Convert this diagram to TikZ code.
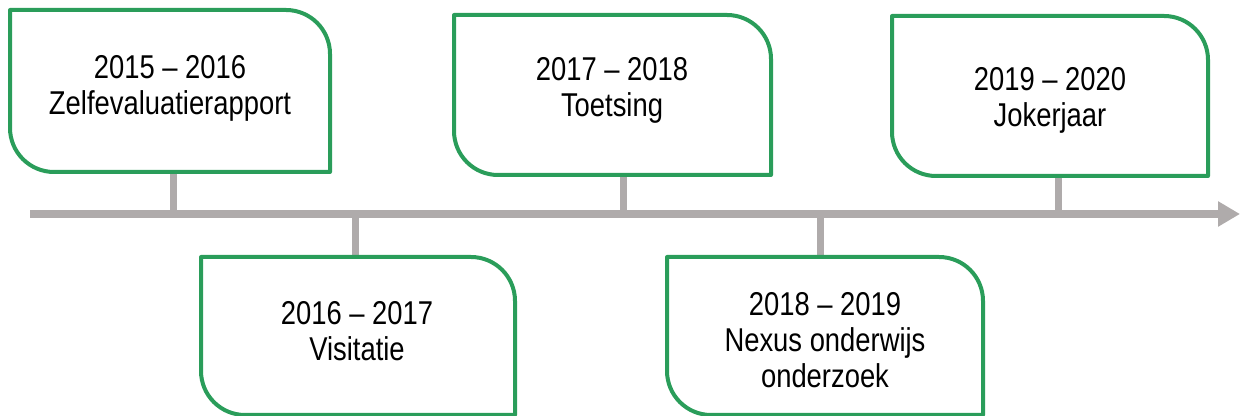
\documentclass[tikz,border=0pt]{standalone}
\usepackage{fontspec}
\setmainfont{Liberation Sans}[FakeStretch=0.83]
\usetikzlibrary{arrows.meta}
\definecolor{boxgreen}{RGB}{42,157,90}
\definecolor{axisgray}{RGB}{175,171,171}
\newcommand{\greenframe}[1]{%
  \draw[boxline] (#1.north west) -- ([xshift=-22pt]#1.north east)
    arc[start angle=90,end angle=0,radius=22pt] -- (#1.south east)
    -- ([xshift=22pt]#1.south west)
    arc[start angle=270,end angle=180,radius=22pt] -- cycle;}
\tikzset{
  evbox/.style={draw=none, inner sep=0pt, outer sep=0pt},
  lbl/.style={align=center, font=\fontsize{16.5}{18}\selectfont, text=black, inner sep=0pt},
  axisline/.style={draw=axisgray, line width=3.75pt},
  stemline/.style={draw=axisgray, line width=3.5pt},
  boxline/.style={draw=boxgreen, line width=2pt, line join=round}
}
\begin{document}
\begin{tikzpicture}[x=0.5pt,y=0.5pt]
\useasboundingbox (0,0) rectangle (1240,416);
% boxes
\node[evbox, minimum width=160pt, minimum height=81pt] (b1) at (170,325) {};
\node[evbox, minimum width=158.5pt, minimum height=80pt] (b2) at (612.5,321) {};
\node[evbox, minimum width=158pt, minimum height=80pt] (b3) at (1050,320) {};
\node[evbox, minimum width=157pt, minimum height=79pt] (b4) at (358,80) {};
\node[evbox, minimum width=158pt, minimum height=79pt] (b5) at (825,80) {};
% timeline
\coordinate (t0) at (30,202);
\coordinate (t1) at (1240,202);
\coordinate (p1) at (173,202);
\coordinate (p4) at (355,202);
\coordinate (p2) at (623,202);
\coordinate (p5) at (820,202);
\coordinate (p3) at (1058,202);
\draw[stemline] (b1.south -| p1) -- (p1);
\draw[stemline] (b2.south -| p2) -- (p2);
\draw[stemline] (b3.south -| p3) -- (p3);
\draw[stemline] (b4.north -| p4) -- (p4);
\draw[stemline] (b5.north -| p5) -- (p5);
\draw[axisline, -{Triangle[length=11pt,width=12pt]}] (t0) -- (t1);
\greenframe{b1}
\greenframe{b2}
\greenframe{b3}
\greenframe{b4}
\greenframe{b5}
% labels
\node[lbl] (l1) at (170,328) {2015 – 2016\\Zelfevaluatierapport};
\node[lbl] (l2) at (612,326) {2017 – 2018\\Toetsing};
\node[lbl] (l3) at (1050,316) {2019 – 2020\\Jokerjaar};
\node[lbl] (l4) at (357,84.5) {2016 – 2017\\Visitatie};
\node[lbl] (l5) at (825,76) {2018 – 2019\\Nexus onderwijs\\onderzoek};
\end{tikzpicture}
\end{document}
